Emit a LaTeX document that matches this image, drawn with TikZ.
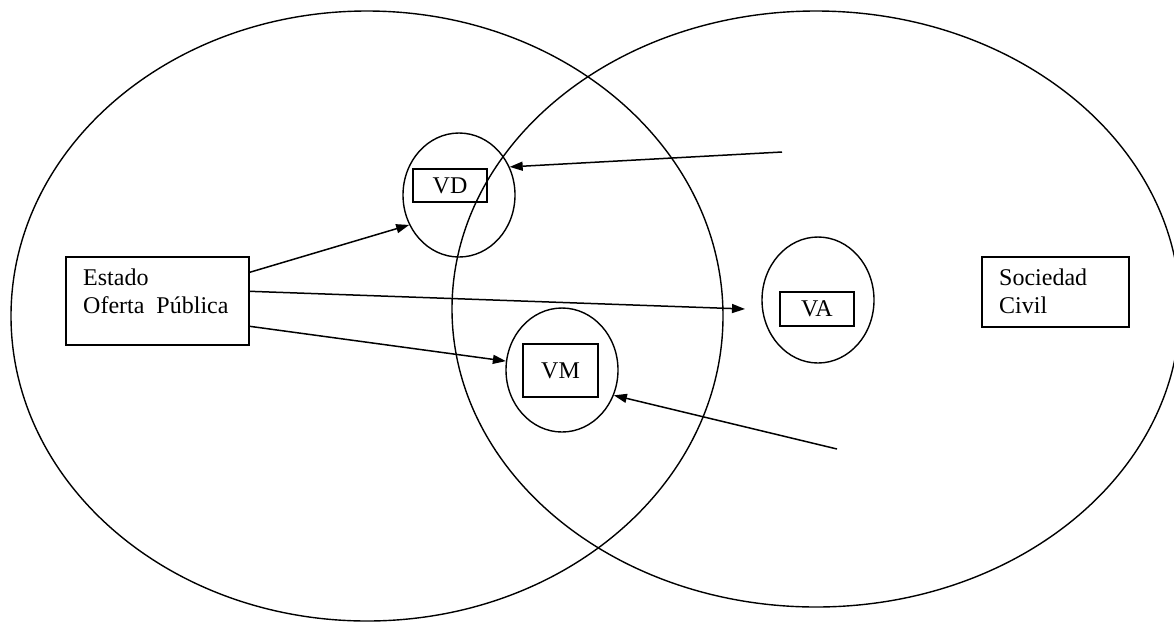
\documentclass[tikz,border=0pt]{standalone}
\usepackage{fontspec}
\setmainfont{Liberation Serif}
\usetikzlibrary{shapes.geometric,arrows.meta,calc}
\begin{document}
\begin{tikzpicture}[x=1pt,y=-1pt,
  big/.style={draw, ellipse, line width=1.4pt, inner sep=0pt},
  small/.style={draw, ellipse, line width=1.4pt, inner sep=0pt, minimum width=112pt, minimum height=124pt},
  box/.style={draw, rectangle, line width=1.4pt, inner sep=0pt, font=\fontsize{24}{28}\selectfont},
  txt/.style={anchor=base west, inner sep=0pt, font=\fontsize{24}{28}\selectfont},
  arr/.style={line width=1.5pt, -{Triangle[length=13pt,width=9pt]}}]
\useasboundingbox (0,0) rectangle (1174,622);
\clip (0,0) rectangle (1174,622);
\fill[white] (0,0) rectangle (1174,622);
% large sets
\node[big, minimum width=712pt, minimum height=610pt] (estadoE) at (367,316) {};
\node[big, minimum width=728pt, minimum height=596pt] (civilE) at (816,309) {};
% small ellipses
\node[small] (vdE) at (459,195) {};
\node[small] (vmE) at (562,370) {};
\node[small, minimum height=126pt] (vaE) at (818,300) {};
% boxes
\node[box, minimum width=74pt, minimum height=33pt] (vd) at (450,185.5) {VD};
\node[box, minimum width=75pt, minimum height=53pt] (vm) at (560.5,370.5) {VM};
\node[box, minimum width=74pt, minimum height=34pt] (va) at (817,309) {VA};
\node[box, minimum width=183pt, minimum height=88pt] (estado) at (157.5,301) {};
\node[txt] (estadoT1) at (83,285) {Estado};
\node[txt] (estadoT2) at (83,313) {Oferta~~Pública};
\node[box, minimum width=147pt, minimum height=70pt] (civil) at (1055.5,292) {};
\node[txt] (civilT1) at (999,285) {Sociedad};
\node[txt] (civilT2) at (999,313) {Civil};
% free ends
\coordinate (vdSrc) at (782,152);
\coordinate (vmSrc) at (837,449);
\coordinate (vaTip) at (745,309);
% arrows
\draw[arr] (vdSrc) -- (vdE.29);
\draw[arr] ($(estado.north east)+(0,16)$) -- (vdE.211);
\draw[arr] ($(estado.north east)+(0,35)$) -- (vaTip);
\draw[arr] ($(estado.north east)+(0,70)$) -- (vmE.171);
\draw[arr] (vmSrc) -- (vmE.-26);
\end{tikzpicture}
\end{document}
